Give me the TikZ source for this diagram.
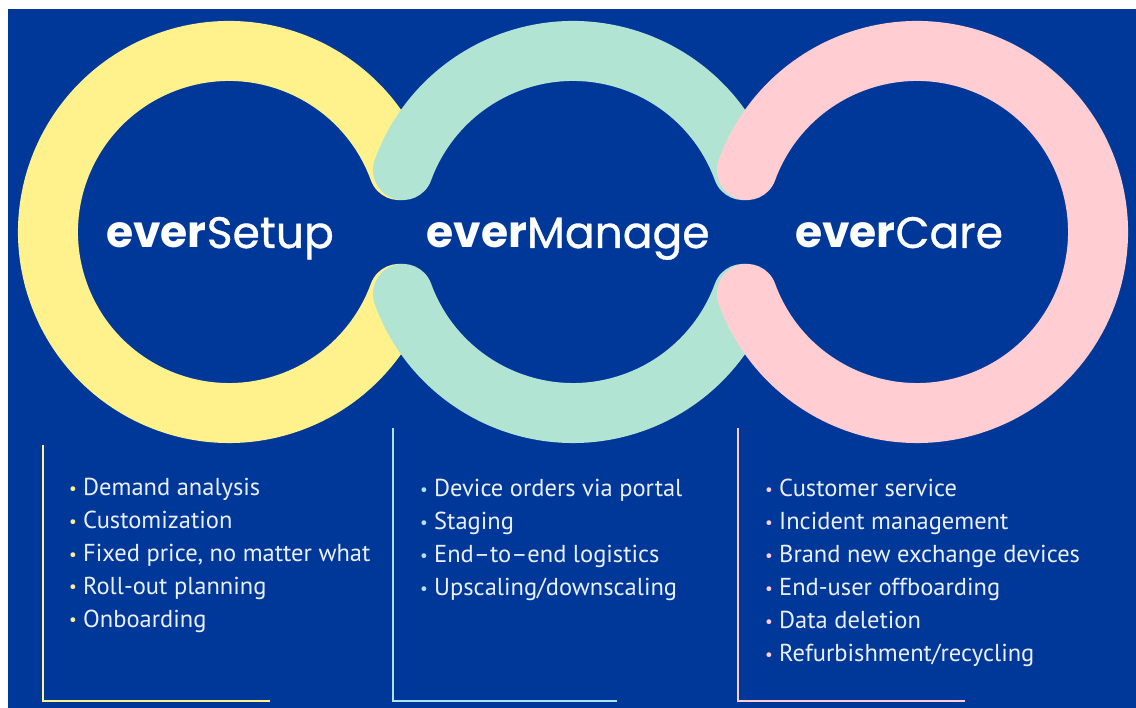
\documentclass[tikz,border=0pt]{standalone}
\usepackage{fontspec}
\setmainfont{PT Sans}
\newfontfamily\titlefont{Poppins}
\newfontfamily\titlemedium{Poppins}[FakeBold=0.8]
\usetikzlibrary{positioning}

\definecolor{bgblue}{HTML}{00389A}
\definecolor{setupyellow}{HTML}{FFF28C}
\definecolor{manageteal}{HTML}{B2E4D4}
\definecolor{manageline}{HTML}{B0E2EE}
\definecolor{carepink}{HTML}{FFCDD2}
\definecolor{itemwhite}{HTML}{EAF0FF}

\newcommand{\listentry}[2]{\makebox[14pt][l]{\textcolor{#1}{\raisebox{1.5pt}{\scalebox{0.7}{•}}}}#2}

\tikzset{
  ring/.style={line width=60pt, line cap=round},
  bracket/.style={line width=2.6pt},
  title/.style={text=white, anchor=base, inner sep=0pt,
                font=\fontsize{44}{44}\selectfont},
  item/.style={text=itemwhite, anchor=base west, inner sep=0pt,
               font=\fontsize{24.5}{28}\selectfont}
}

\begin{document}
\begin{tikzpicture}[x=1pt, y=1pt]
  \useasboundingbox (0,0) rectangle (1136,708);
  \fill[white] (0,0) rectangle (1136,708);
  \fill[bgblue] (8,0) rectangle (1136,699);

  \coordinate (setupc) at (229,476);
  \coordinate (managec) at (573,476);
  \coordinate (carec) at (917,476);

  % rings, drawn left to right so each overlaps the previous one
  \draw[ring, setupyellow] (setupc) ++(20:181) arc[start angle=20, end angle=340, radius=181];
  \draw[ring, manageteal] (managec) ++(20:181) arc[start angle=20, end angle=160, radius=181];
  \draw[ring, manageteal] (managec) ++(200:181) arc[start angle=200, end angle=340, radius=181];
  \draw[ring, carepink] (carec) ++(-160:181) arc[start angle=-160, end angle=160, radius=181];

  \node[title] (setuptitle) at (220,460) {{\titlefont\bfseries ever}{\titlemedium Setup}};
  \node[title] (managetitle) at (568,460) {{\titlefont\bfseries ever}{\titlemedium Manage}};
  \node[title] (caretitle) at (899,460) {{\titlefont\bfseries ever}{\titlemedium Care}};

  % brackets under the rings
  \coordinate (setuptop) at (43,263);
  \coordinate (setupcorner) at (43,7);
  \coordinate (setupend) at (270,7);
  \draw[bracket, setupyellow] (setuptop) -- (setupcorner) -- (setupend);
  \coordinate (managetop) at (393,280);
  \coordinate (managecorner) at (393,7);
  \coordinate (manageend) at (617,7);
  \draw[bracket, manageline] (managetop) -- (managecorner) -- (manageend);
  \coordinate (caretop) at (738,280);
  \coordinate (carecorner) at (738,7);
  \coordinate (careend) at (965,7);
  \draw[bracket, carepink] (caretop) -- (carecorner) -- (careend);

  \foreach \txt [count=\i from 0] in {Demand analysis, Customization,
      {Fixed price, no matter what}, Roll-out planning, Onboarding}
    \node[item] (setup-\i) at (69,{212-32.8*\i}) {\listentry{setupyellow}{\txt}};
  \foreach \txt [count=\i from 0] in {Device orders via portal, Staging,
      End–to–end logistics, Upscaling/downscaling}
    \node[item] (manage-\i) at (420,{211-33*\i}) {\listentry{manageline}{\txt}};
  \foreach \txt [count=\i from 0] in {Customer service, Incident management,
      Brand new exchange devices, End-user offboarding, Data deletion,
      Refurbishment/recycling}
    \node[item] (care-\i) at (765,{211-33*\i}) {\listentry{carepink}{\txt}};
\end{tikzpicture}
\end{document}
